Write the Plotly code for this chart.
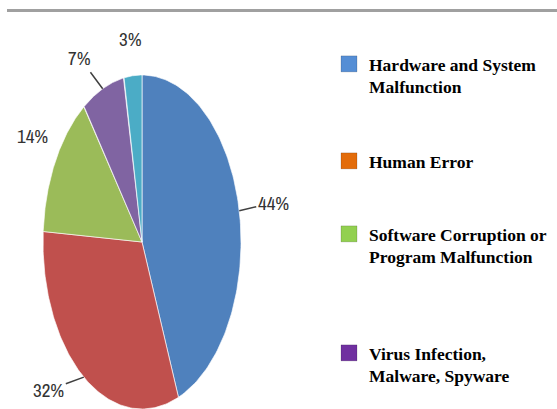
import numpy as np
import plotly.graph_objects as go

# ---- data ----
categories = ["Hardware and System Malfunction", "Human Error",
              "Software Corruption or Program Malfunction",
              "Virus Infection, Malware, Spyware", "Other"]
values = [44, 32, 14, 7, 3]
labels = ["44%", "32%", "14%", "7%", "3%"]
legend_names = ["Hardware and System<br>Malfunction", "Human Error",
                "Software Corruption or<br>Program Malfunction",
                "Virus Infection,<br>Malware, Spyware"]

# ---- style ----
slice_colors = ["#4F81BD", "#C0504D", "#9BBB59", "#8064A2", "#4BACC6"]
legend_colors = ["#558ED5", "#E36C0A", "#92D050", "#7030A0"]
# label offsets (pixels) from the slice edge midpoint, and whether a leader line is drawn
label_offsets = [(34, -8, True), (-35, 13, True), (-23, 26, False), (-23, -31, True), (-2, 37, False)]
pct_font = dict(family="Arial Narrow, Liberation Sans Narrow, Archivo Narrow, Roboto Condensed, Liberation Sans",
                size=19, color="#333333")

W, H = 557, 409
cx, cy, rx, ry = 142, 242, 99, 167

fig = go.Figure()

total = sum(values)
cum = 0.0
mids = []
for v, col, name in zip(values, slice_colors, categories):
    a0 = cum / total * 2 * np.pi
    a1 = (cum + v) / total * 2 * np.pi
    cum += v
    t = np.linspace(a0, a1, 120)
    xs = np.concatenate([[0], np.sin(t), [0]])
    ys = np.concatenate([[0], np.cos(t), [0]])
    fig.add_trace(go.Scatter(
        x=xs, y=ys, mode="lines", fill="toself", fillcolor=col,
        line=dict(color="rgba(255,255,255,0.8)", width=0.8),
        name=name, showlegend=False, hoveron="fills",
        hovertemplate=f"{name}: {v}%<extra></extra>"))
    mids.append((a0 + a1) / 2)

for m, lab, (dx, dy, arrow) in zip(mids, labels, label_offsets):
    x, y = np.sin(m), np.cos(m)
    if arrow:
        fig.add_annotation(x=x, y=y, text=lab, showarrow=True, ax=dx, ay=dy,
                           arrowhead=0, arrowwidth=1.5, arrowcolor="#404040", font=pct_font)
    else:
        fig.add_annotation(x=x, y=y, text=lab, showarrow=False, xshift=dx, yshift=dy,
                           font=pct_font)

# legend entries (one legend each so they can be spaced like the reference)
legend_keys = ["legend", "legend2", "legend3", "legend4"]
legend_tops = [46, 143, 216, 335]
for name, col, lk in zip(legend_names, legend_colors, legend_keys):
    fig.add_trace(go.Scatter(
        x=[None], y=[None], mode="markers", name=name, legend=lk,
        marker=dict(symbol="square", size=16, color=col,
                    line=dict(color="rgba(0,0,0,0.15)", width=1))))

leg_common = dict(x=329 / W, xanchor="left", yanchor="top", valign="top",
                  bgcolor="rgba(0,0,0,0)", borderwidth=0,
                  font=dict(family="Liberation Serif", size=17.5, color="#000000", weight="bold"))
layout_legends = {}
for lk, top in zip(legend_keys, legend_tops):
    layout_legends[lk] = dict(leg_common, y=(H - top) / H)

fig.update_layout(
    width=W, height=H, margin=dict(l=0, r=0, t=0, b=0, autoexpand=False),
    paper_bgcolor="white", plot_bgcolor="white",
    xaxis=dict(domain=[(cx - rx) / W, (cx + rx) / W], range=[-1, 1], visible=False, fixedrange=True),
    yaxis=dict(domain=[(H - cy - ry) / H, (H - cy + ry) / H], range=[-1, 1], visible=False, fixedrange=True),
    showlegend=True,
    shapes=[dict(type="line", xref="paper", yref="paper", x0=7 / W, x1=1,
                 y0=(H - 10.5) / H, y1=(H - 10.5) / H,
                 line=dict(color="#A0A0A0", width=3))],
    **layout_legends,
)

fig.write_html("out.html", config={"displayModeBar": False},
               post_script="document.body.style.margin='0';document.body.style.overflow='hidden';")
